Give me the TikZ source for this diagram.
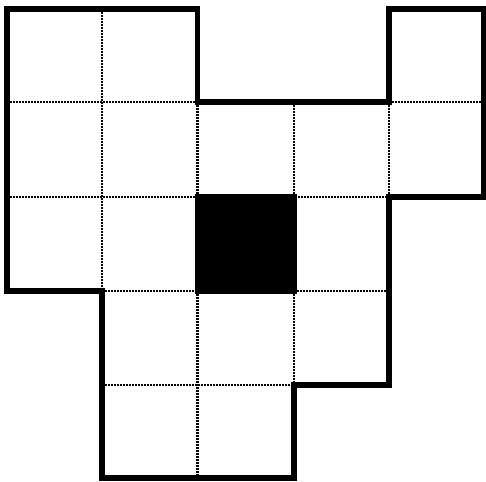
\documentclass[tikz,border=0pt]{standalone}
\begin{document}
\begin{tikzpicture}[x=1pt,y=-1pt,
  gridline/.style={line width=2.4pt,dash pattern=on 2pt off 1pt,black},
  outline/.style={line width=5.5pt,line join=miter,line cap=rect},
  hole/.style={fill=black,draw=black,line width=5pt}]
\useasboundingbox (0,0) rectangle (486,481);
% dotted inner grid lines
\draw[gridline] (102,9) -- (102,291);
\draw[gridline] (197.5,102) -- (197.5,478);
\draw[gridline] (294,102) -- (294,385);
\draw[gridline] (389,102) -- (389,197);
\draw[gridline] (7,102) -- (197.5,102);
\draw[gridline] (389,102) -- (484,102);
\draw[gridline] (7,197) -- (389,197);
\draw[gridline] (102,291) -- (389,291);
\draw[gridline] (102,385) -- (294,385);
% black cell
\draw[hole] (197.5,196.5) rectangle (294.5,291.5);
% outline
\draw[outline] (7,9) -- (197.5,9) -- (197.5,102) -- (389,102) -- (389,9) -- (484,9)
  -- (484,197) -- (389,197) -- (389,385) -- (294,385) -- (294,478) -- (102,478)
  -- (102,291) -- (7,291) -- cycle;
\end{tikzpicture}
\end{document}
